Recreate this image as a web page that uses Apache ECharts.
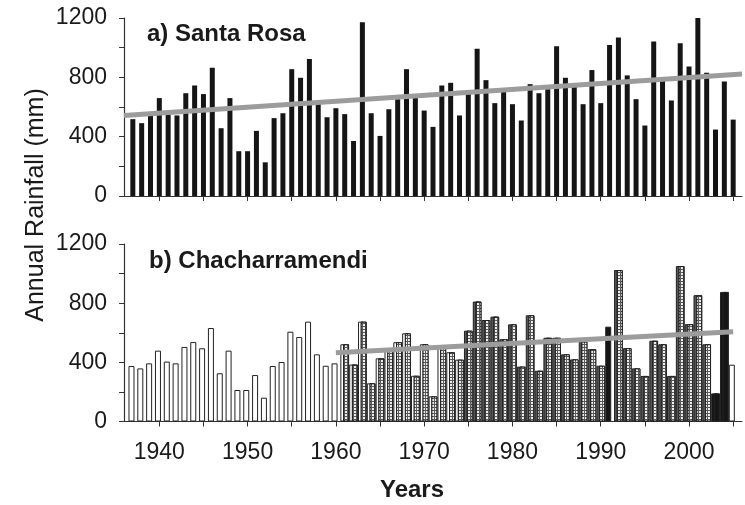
<!DOCTYPE html>
<html>
<head>
<meta charset="utf-8">
<script src="https://cdn.jsdelivr.net/npm/echarts@6/dist/echarts.min.js"></script>
<style>
  html, body { margin: 0; padding: 0; background: #fff; }
  #chart { width: 745px; height: 505px; }
</style>
</head>
<body>
<div id="chart"></div>
<script>
// Annual rainfall (mm), one value per year starting at firstYear
const firstYear = 1937;

// a) Santa Rosa, 1937-2005
const santaRosa = [
  518, 491, 543, 660, 558, 543, 693, 745, 687, 864,
  457, 660, 302, 302, 439, 227, 525, 558, 855, 797,
  923, 626, 531, 592, 552, 371, 1171, 558, 405, 585,
  653, 855, 669, 576, 466, 745, 763, 543, 705, 993,
  781, 626, 727, 619, 509, 754, 693, 720, 1009, 797,
  754, 619, 849, 626, 1018, 1069, 813, 653, 475, 1042,
  781, 644, 1029, 873, 1200, 831, 448, 772, 515
];

// b) Chacharramendi, station record 1937-2005
const chachaStation = [
  375, 359, 393, 479, 405, 393, 504, 537, 495, 632,
  326, 479, 213, 213, 314, 161, 375, 402, 607, 571,
  675, 454, 377, 393, 522, 385, 675, 258, 427, 477,
  536, 596, 309, 522, 170, 504, 468, 418, 614, 811,
  686, 709, 556, 657, 371, 718, 343, 566, 566, 454,
  420, 540, 489, 377, 641, 1024, 496, 359, 308, 546,
  522, 308, 1051, 658, 854, 522, 190, 876, 384
];
// station years shaded dark grey, and years drawn solid black
const stationShadeFrom = 1975;
const stationShadeTo = 2002;
const solidYears = [1991, 2003, 2004];

// b) Chacharramendi, second record 1961-2004 (null = no value)
const hatchFirstYear = 1961;
const chachaSecond = [
  522, 385, 675, 258, 427, 477, 536, 596, 309, 522,
  170, 504, 468, 418, 614, 811, 686, 709, 556, 657,
  371, 718, 343, 566, 566, 454, 420, 540, 489, 377,
  null, 1024, 496, 359, 308, 546, 522, 308, 1051, 658,
  854, 522, 190, 876
];

// linear trends [year, mm]
const trendSantaRosa = [[1936, 543], [2006, 823]];
const trendChacha = [[1960, 465], [2005, 607]];

// axes
const yearTicks = [1940, 1945, 1950, 1955, 1960, 1965, 1970, 1975, 1980, 1985, 1990, 1995, 2000, 2005];
const yearLabels = [1940, 1950, 1960, 1970, 1980, 1990, 2000];
const rainLabelStep = 400;

const FONT = "'Liberation Sans', Arial, Helvetica, sans-serif";
const INK = '#1a1a1a';
const SOLID = '#151515';

const chart = echarts.init(document.getElementById('chart'), null, { renderer: 'canvas' });

function xAxis(gridIndex, showLabels) {
  return {
    type: 'value', gridIndex, min: 1936, max: 2006,
    axisLine: { show: true, lineStyle: { color: '#333', width: 1.2 } },
    axisTick: { show: true, customValues: yearTicks, length: 5, lineStyle: { color: '#333', width: 1 } },
    axisLabel: {
      show: showLabels, customValues: yearLabels, formatter: v => String(v),
      fontFamily: FONT, fontSize: 23, color: INK, margin: 20
    },
    splitLine: { show: false }
  };
}
function yAxis(gridIndex) {
  return {
    type: 'value', gridIndex, min: 0, max: 1200, interval: 200,
    axisLine: { show: true, lineStyle: { color: '#333', width: 1.2 } },
    axisTick: { show: true, length: 5, lineStyle: { color: '#333', width: 1 } },
    axisLabel: {
      formatter: v => (v % rainLabelStep === 0 ? String(v) : ''),
      fontFamily: FONT, fontSize: 23, color: INK, margin: 17
    },
    splitLine: { show: false }
  };
}

// dotted fill of the second record
const hatchDecal = {
  symbol: 'rect', symbolSize: 1, color: '#ececec',
  dashArrayX: [2, 1], dashArrayY: [2, 1]
};
const solidDecal = { symbol: 'rect', color: SOLID, dashArrayX: [1, 0], dashArrayY: [1, 0] };

const santaRosaData = santaRosa.map((v, i) => [firstYear + i, v]);
const stationData = chachaStation.map((v, i) => {
  const yr = firstYear + i;
  if (solidYears.includes(yr)) {
    return { value: [yr, v], itemStyle: { color: SOLID } };
  }
  if (yr >= stationShadeFrom && yr <= stationShadeTo) {
    return { value: [yr, v], itemStyle: { color: '#555' } };
  }
  return [yr, v];
});
const secondData = chachaSecond.map((v, i) => {
  const yr = hatchFirstYear + i;
  if (v === null) return [yr, '-'];
  if (solidYears.includes(yr)) {
    return { value: [yr, v], itemStyle: { color: SOLID, decal: solidDecal } };
  }
  return [yr, v];
});

const option = {
  animation: false,
  backgroundColor: '#fff',
  grid: [
    { left: 124, top: 18, width: 618, height: 178 },
    { left: 124, top: 244, width: 618, height: 177.5 }
  ],
  xAxis: [xAxis(0, false), xAxis(1, true)],
  yAxis: [yAxis(0), yAxis(1)],
  series: [
    {
      name: 'Santa Rosa', type: 'bar', xAxisIndex: 0, yAxisIndex: 0,
      data: santaRosaData, barWidth: 5,
      itemStyle: { color: SOLID }
    },
    {
      name: 'Santa Rosa trend', type: 'line', xAxisIndex: 0, yAxisIndex: 0,
      data: trendSantaRosa, symbol: 'none', z: 5,
      lineStyle: { color: '#9c9c9c', width: 5 }
    },
    {
      name: 'Chacharramendi', type: 'bar', xAxisIndex: 1, yAxisIndex: 1,
      data: stationData, barWidth: 6,
      itemStyle: { color: '#fff', borderColor: '#222', borderWidth: 1 }
    },
    {
      name: 'Chacharramendi (2)', type: 'bar', xAxisIndex: 1, yAxisIndex: 1,
      data: secondData, barWidth: 6, barGap: '-55%',
      itemStyle: { color: '#5a5a5a', borderColor: '#222', borderWidth: 1, decal: hatchDecal }
    },
    {
      name: 'Chacharramendi trend', type: 'line', xAxisIndex: 1, yAxisIndex: 1,
      data: trendChacha, symbol: 'none', z: 5,
      lineStyle: { color: '#9c9c9c', width: 5 }
    }
  ],
  graphic: [
    {
      type: 'text', x: 147, y: 34,
      style: { text: 'a) Santa Rosa', fontFamily: FONT, fontSize: 24, fontWeight: 'bold', fill: INK, align: 'left', verticalAlign: 'middle' }
    },
    {
      type: 'text', x: 149, y: 261,
      style: { text: 'b) Chacharramendi', fontFamily: FONT, fontSize: 24, fontWeight: 'bold', fill: INK, align: 'left', verticalAlign: 'middle' }
    },
    {
      type: 'text', x: 412, y: 490,
      style: { text: 'Years', fontFamily: FONT, fontSize: 24, fontWeight: 'bold', fill: INK, align: 'center', verticalAlign: 'middle' }
    },
    {
      type: 'text', x: 36, y: 205, rotation: Math.PI / 2,
      style: { text: 'Annual Rainfall (mm)', fontFamily: FONT, fontSize: 25, fill: INK, align: 'center', verticalAlign: 'middle' }
    }
  ]
};

chart.setOption(option);
</script>
</body>
</html>
